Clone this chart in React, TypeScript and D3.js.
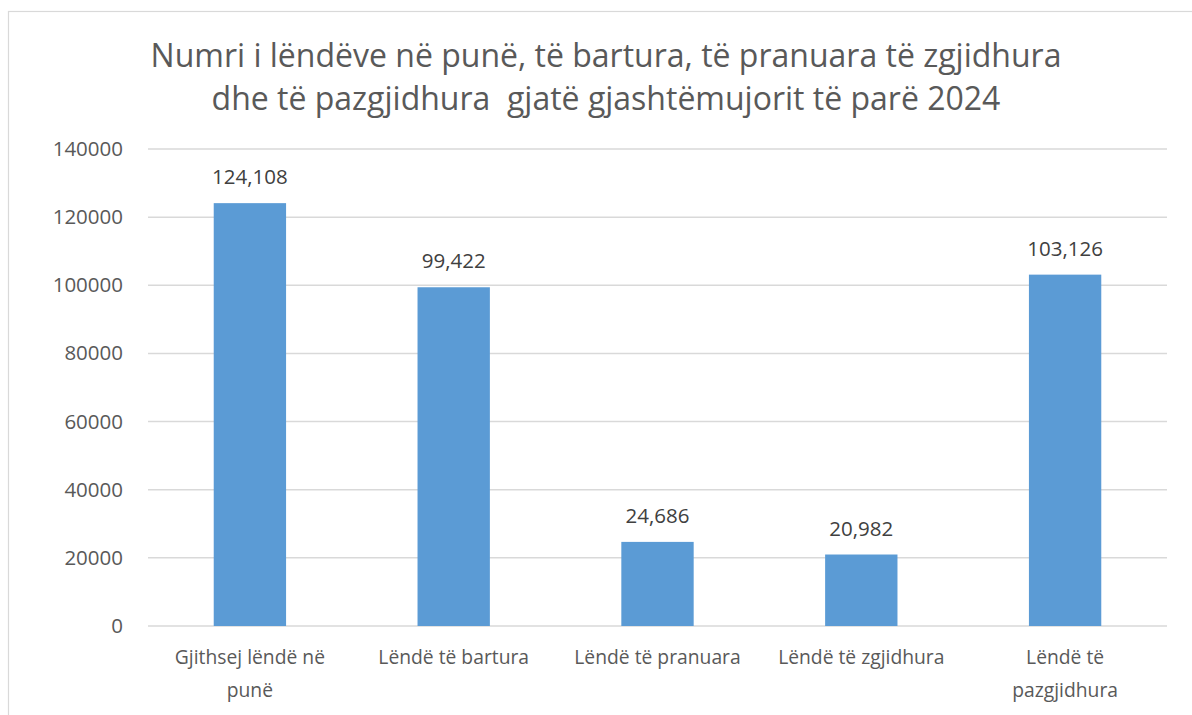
import React from "react";
import * as d3 from "d3";

const categories = [
  "Gjithsej lëndë në\npunë",
  "Lëndë të bartura",
  "Lëndë të pranuara",
  "Lëndë të zgjidhura",
  "Lëndë të\npazgjidhura",
];
const values = [124108, 99422, 24686, 20982, 103126];
const yTicks = [0, 20000, 40000, 60000, 80000, 100000, 120000, 140000];
const titleLines = [
  "Numri i lëndëve në punë, të bartura, të pranuara të zgjidhura",
  "dhe të pazgjidhura  gjatë gjashtëmujorit të parë 2024",
];

const W = 1192;
const H = 715;
const FONT = "'Open Sans', 'Noto Sans', sans-serif";
const TXT = "#595959";

export default function App() {
  const left = 148, right = 1167, top = 149, bottom = 626;
  const x = d3.scaleBand<string>().domain(categories).range([left, right]).paddingInner(0.645).paddingOuter(0.3225);
  const band = d3.scaleBand<string>().domain(categories).range([left, right]);
  const y = d3.scaleLinear().domain([0, 140000]).range([bottom, top]);
  const fmt = d3.format(",");

  return (
    <svg width={W} height={H} style={{ position: "absolute", left: 0, top: 0, background: "#fff" }}>
      <rect x={8.5} y={11.5} width={W + 10} height={H + 10} fill="#fff" stroke="#D9D9D9" strokeWidth={1.2} />
      {titleLines.map((t, i) => (
        <text key={i} x={606} y={67 + i * 43} textAnchor="middle" fontFamily={FONT} fontSize={32} fill={TXT} style={{ whiteSpace: "pre" }}>
          {t}
        </text>
      ))}
      {yTicks.map((t) => (
        <g key={t}>
          <line x1={left} x2={right} y1={y(t)} y2={y(t)} stroke="#D9D9D9" strokeWidth={1.5} />
          <text x={123} y={y(t) + 7} textAnchor="end" fontFamily={FONT} fontSize={20.5} fill={TXT}>
            {t}
          </text>
        </g>
      ))}
      {categories.map((c, i) => {
        const bx = x(c)!;
        const bw = x.bandwidth();
        const cx = band(c)! + band.bandwidth() / 2;
        return (
          <g key={c}>
            <rect x={bx} y={y(values[i])} width={bw} height={y(0) - y(values[i])} fill="#5B9BD5" />
            <text x={cx} y={y(values[i]) - 19} textAnchor="middle" fontFamily={FONT} fontSize={20.5} fill="#404040">
              {fmt(values[i])}
            </text>
            {c.split("\n").map((ln, j) => (
              <text key={j} x={cx} y={664 + j * 33} textAnchor="middle" fontFamily={FONT} fontSize={19.3} fill={TXT}>
                {ln}
              </text>
            ))}
          </g>
        );
      })}
    </svg>
  );
}
